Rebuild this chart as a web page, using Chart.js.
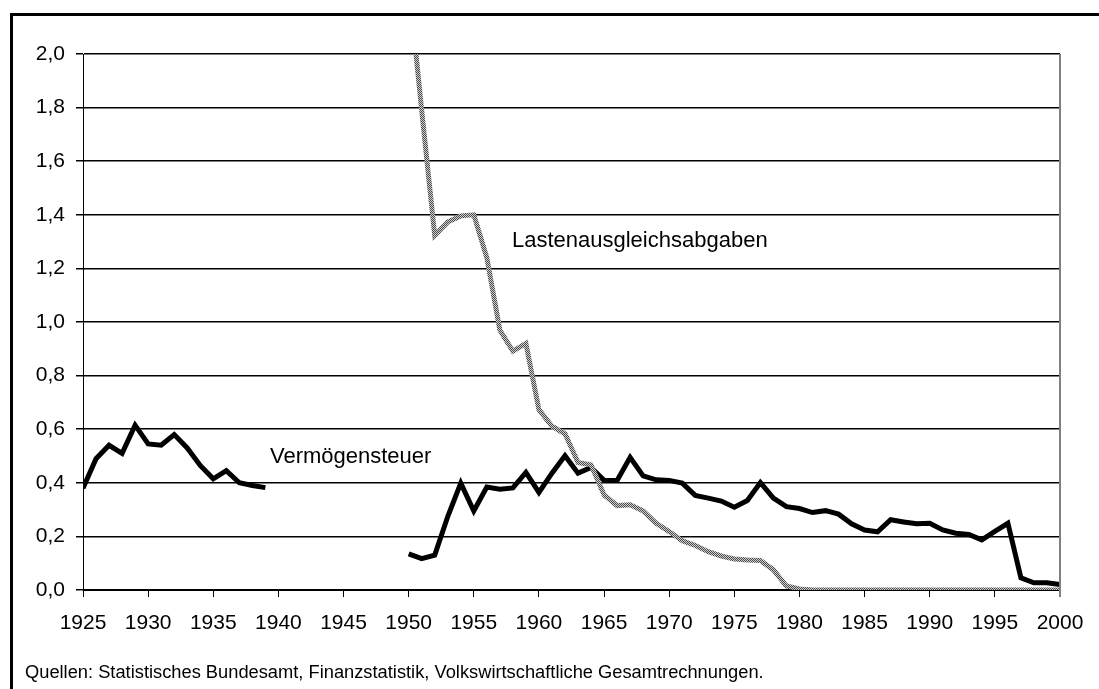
<!DOCTYPE html>
<html>
<head>
<meta charset="utf-8">
<script src="https://cdn.jsdelivr.net/npm/chart.js@4.4.0/dist/chart.umd.min.js"></script>
<style>
  html, body { margin: 0; padding: 0; background: #fff; }
  body { width: 1099px; height: 689px; overflow: hidden; position: relative; font-family: Arial, "Liberation Sans", sans-serif; }
  #frame { position: absolute; left: 10px; top: 13px; width: 1200px; height: 800px; border: 3px solid #000; box-sizing: border-box; }
  #myChart { position: absolute; left: 0; top: 0; }
  #source { position: absolute; left: 25px; top: 661px; font-size: 18.3px; color: #000; white-space: nowrap; }
</style>
</head>
<body>
<div id="frame"></div>
<canvas id="myChart" width="1099" height="689"></canvas>
<div id="source">Quellen: Statistisches Bundesamt, Finanzstatistik, Volkswirtschaftliche Gesamtrechnungen.</div>
<script>
// data
const years = [
  1925, 1926, 1927, 1928, 1929, 1930, 1931, 1932, 1933, 1934,
  1935, 1936, 1937, 1938, 1939, 1940, 1941, 1942, 1943, 1944,
  1945, 1946, 1947, 1948, 1949, 1950, 1951, 1952, 1953, 1954,
  1955, 1956, 1957, 1958, 1959, 1960, 1961, 1962, 1963, 1964,
  1965, 1966, 1967, 1968, 1969, 1970, 1971, 1972, 1973, 1974,
  1975, 1976, 1977, 1978, 1979, 1980, 1981, 1982, 1983, 1984,
  1985, 1986, 1987, 1988, 1989, 1990, 1991, 1992, 1993, 1994,
  1995, 1996, 1997, 1998, 1999, 2000
];

const vermoegensteuer = [
  0.38, 0.49, 0.54, 0.51, 0.615, 0.545, 0.54, 0.58, 0.53, 0.465,
  0.415, 0.445, 0.40, 0.39, 0.382, null, null, null, null, null,
  null, null, null, null, null, 0.135, 0.117, 0.13, 0.274, 0.399,
  0.295, 0.384, 0.376, 0.381, 0.439, 0.364, 0.436, 0.501, 0.436, 0.457,
  0.409, 0.409, 0.495, 0.426, 0.411, 0.409, 0.399, 0.353, 0.343, 0.332,
  0.309, 0.334, 0.401, 0.343, 0.311, 0.304, 0.289, 0.296, 0.283, 0.247,
  0.224, 0.217, 0.262, 0.254, 0.247, 0.249, 0.224, 0.212, 0.207, 0.187,
  0.219, 0.249, 0.045, 0.027, 0.027, 0.02
];

const lastenausgleich = [
  null, null, null, null, null, null, null, null, null, null,
  null, null, null, null, null, null, null, null, null, null,
  null, null, null, null, null, 2.27, 1.79, 1.323, 1.373, 1.396,
  1.40, 1.24, 0.97, 0.891, 0.92, 0.673, 0.611, 0.583, 0.476, 0.467,
  0.355, 0.315, 0.318, 0.295, 0.249, 0.218, 0.184, 0.166, 0.143, 0.127,
  0.116, 0.112, 0.11, 0.075, 0.015, 0.004, 0, 0, 0, 0,
  0, 0, 0, 0, 0, 0, 0, 0, 0, 0,
  0, 0, 0, 0, 0, 0
];

const yTicks = [0, 0.2, 0.4, 0.6, 0.8, 1.0, 1.2, 1.4, 1.6, 1.8, 2.0];

const fontFamily = 'Arial, "Liberation Sans", sans-serif';

// grauer, gepunkteter Strich fuer die Lastenausgleichsabgaben
function makePattern() {
  const c = document.createElement('canvas');
  c.width = 2; c.height = 2;
  const g = c.getContext('2d');
  g.fillStyle = '#cfcfcf';
  g.fillRect(0, 0, 2, 2);
  g.fillStyle = '#4a4a4a';
  g.fillRect(0, 0, 1, 1);
  g.fillRect(1, 1, 1, 1);
  return g.createPattern(c, 'repeat');
}
const ctx = document.getElementById('myChart').getContext('2d');

// Beschriftungen im Diagramm und rechter Rand
const annotations = {
  id: 'annotations',
  afterDraw(chart) {
    const c = chart.ctx;
    const x = chart.scales.x, y = chart.scales.y;
    const area = chart.chartArea;
    c.save();
    c.strokeStyle = '#808080';
    c.lineWidth = 2;
    c.beginPath();
    c.moveTo(area.right, area.top);
    c.lineTo(area.right, area.bottom + 7);
    c.stroke();
    c.fillStyle = '#000';
    c.font = '22px ' + fontFamily;
    c.textBaseline = 'middle';
    c.textAlign = 'left';
    c.fillText('Vermögensteuer', x.getPixelForValue(1939.35), y.getPixelForValue(0.497));
    c.fillText('Lastenausgleichsabgaben', x.getPixelForValue(1957.93), y.getPixelForValue(1.302));
    c.restore();
  }
};

const data = {
  labels: years,
  datasets: [{
    label: 'Vermögensteuer',
    data: vermoegensteuer,
    borderColor: '#000',
    borderWidth: 5,
    pointRadius: 0,
    tension: 0,
    order: 1
  }, {
    label: 'Lastenausgleichsabgaben',
    data: lastenausgleich,
    borderColor: makePattern(),
    borderWidth: 5,
    pointRadius: 0,
    tension: 0,
    order: 0
  }]
};

const config = {
  type: 'line',
  data,
  options: {
    responsive: false,
    animation: false,
    layout: { padding: { top: 54, right: 39, bottom: 0, left: 0 } },
    plugins: {
      legend: { display: false },
      tooltip: { enabled: false }
    },
    scales: {
      x: {
        type: 'linear',
        min: 1925,
        max: 2000,
        afterFit: s => { s.height = 99; },
        ticks: {
          stepSize: 5,
          autoSkip: false,
          maxRotation: 0,
          padding: 14,
          color: '#000',
          font: { size: 21, family: fontFamily },
          callback: v => String(v)
        },
        grid: { drawOnChartArea: false, drawTicks: true, tickLength: 7, color: '#000', lineWidth: 1 },
        border: { display: true, color: '#000', width: 1 }
      },
      y: {
        min: 0,
        max: 2,
        afterFit: s => { s.width = 83; },
        afterBuildTicks: s => { s.ticks = yTicks.map(v => ({ value: v })); },
        ticks: {
          padding: 11,
          color: '#000',
          font: { size: 21, family: fontFamily },
          callback: v => v.toFixed(1).replace('.', ',')
        },
        grid: { color: '#000', lineWidth: 1.5, tickLength: 7, drawTicks: true },
        border: { display: true, color: '#000', width: 1 }
      }
    }
  },
  plugins: [annotations]
};

const myChart = new Chart(ctx, config);
</script>
</body>
</html>
